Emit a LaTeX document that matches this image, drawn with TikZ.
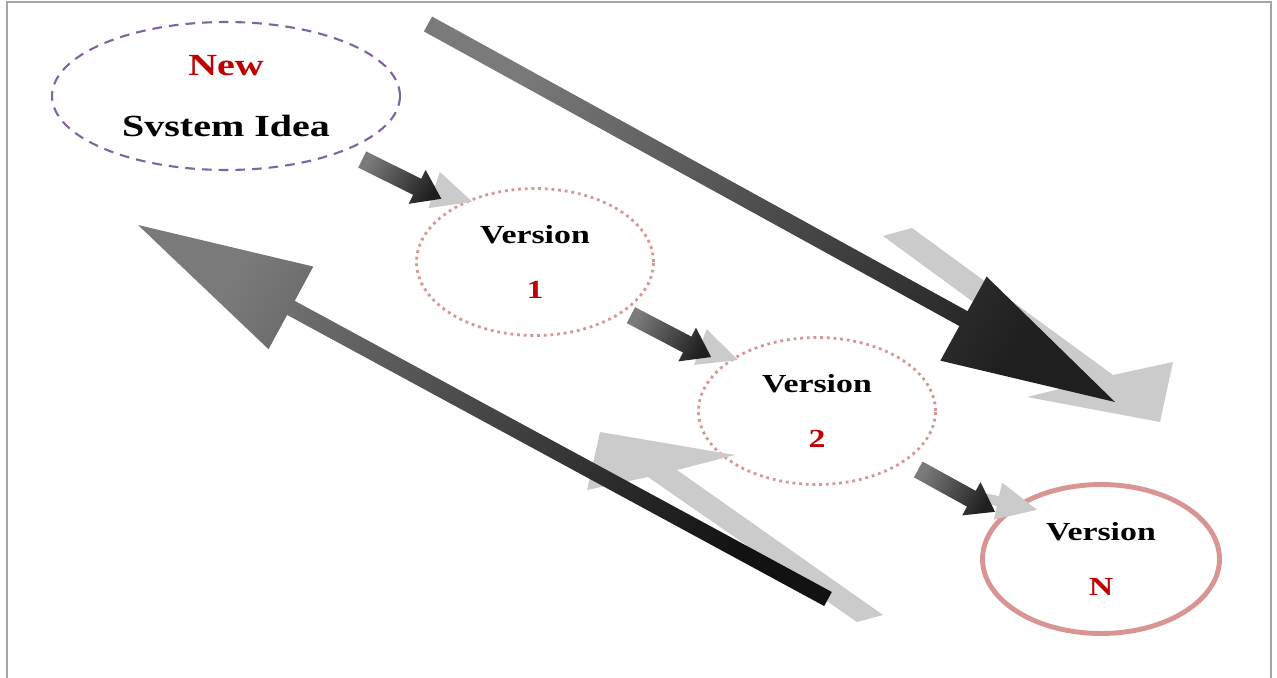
\documentclass[tikz,border=0pt]{standalone}
\usepackage{fontspec}
\newfontfamily\stretchserif[FakeStretch=1.3]{Liberation Serif}
\usetikzlibrary{shapes.geometric, calc}
\definecolor{ideapurple}{HTML}{8064A2}
\definecolor{ringred}{HTML}{D99594}
\definecolor{numred}{HTML}{C00000}
\definecolor{shadowgray}{HTML}{CBCBCB}
\definecolor{framegray}{HTML}{A6A6A6}
\tikzstyle{ideabox} = [ellipse, draw=ideapurple, line width=1.2pt, dash pattern=on 5.5pt off 4pt, minimum width=6.96cm, minimum height=2.96cm, inner sep=0pt, align=center, font=\stretchserif\bfseries\fontsize{17.5}{35}\selectfont]
\tikzstyle{versionbox} = [ellipse, draw=ringred, line width=1.6pt, dash pattern=on 1.6pt off 2.2pt, minimum width=4.74cm, minimum height=2.94cm, inner sep=0pt, align=center, font=\stretchserif\bfseries\fontsize{14.8}{31.8}\selectfont]
\tikzstyle{finalbox} = [versionbox, solid, line width=2.8pt, minimum height=2.98cm]
\tikzstyle{shadow} = [fill=shadowgray]
\tikzstyle{fade} = [left color=black!52, right color=black!88, shading angle=60]
\tikzstyle{fadeup} = [left color=black!52, right color=black!93, shading angle=60]
\newcommand{\blockarrow}[6][]{%
  \coordinate (ba) at ($(#3)!#6!(#2)$);
  \path[#1] ($(#2)!#4!90:(#3)$) -- ($(ba)!#4!90:(#3)$) -- ($(ba)!#5!90:(#3)$) -- (#3)
    -- ($(ba)!#5!-90:(#3)$) -- ($(ba)!#4!-90:(#3)$) -- ($(#2)!#4!-90:(#3)$) -- cycle;
}

\begin{document}
\begin{tikzpicture}[x=0.02cm, y=-0.02cm]
  \useasboundingbox (0,0) rectangle (1277,678);
  \draw [framegray, line width=1.1pt] (7,678) -- (7,2) -- (1271,2) -- (1271,678);

  \node (idea) [ideabox] at (226,96) {\textcolor{numred}{New}\\Svstem Idea};
  \node (v1) [versionbox] at (535,262) {Version\\\textcolor{numred}{1}};
  \node (v2) [versionbox] at (817,411) {Version\\\textcolor{numred}{2}};
  \node (vn) [finalbox] at (1101,559) {Version\\\textcolor{numred}{N}};

  \coordinate (idea-out) at ($(idea.center)!1.15!(idea.-25)$);
  \coordinate (v1-in) at ($(v1.center)!1.15!(v1.146)$);
  \coordinate (v1-out) at ($(v1.center)!1.07!(v1.-29)$);
  \coordinate (v2-in) at ($(v2.center)!1.14!(v2.153)$);
  \coordinate (v2-out) at ($(v2.center)!1.15!(v2.-30)$);
  \coordinate (vn-in) at ($(vn.center)!1.07!(vn.156)$);
  \coordinate (down-tail) at (428,24);
  \coordinate (down-tip) at (1115,402);
  \coordinate (up-tail) at (828,599);
  \coordinate (up-tip) at (138,225);

  \path [shadow] (883,236) -- (1084,383) -- (1027,397) -- (1160,422) -- (1173,362) -- (1113,375) -- (912,228) -- cycle;
  \path [shadow] (857,622) -- (883,615) -- (677,470) -- (735,455) -- (600,432) -- (587,490) -- (648,477) -- cycle;
  \blockarrow[shadow]{$(idea-out)!0.55!(v1-in)$}{$(v1-in)+(31,3)$}{0.1cm}{0.38cm}{0.8cm}
  \blockarrow[shadow]{$(v1-out)!0.55!(v2-in)$}{$(v2-in)+(27,3)$}{0.1cm}{0.38cm}{0.8cm}
  \blockarrow[shadow]{$(v2-out)!0.55!(vn-in)$}{$(vn-in)+(42,-2)$}{0.1cm}{0.38cm}{0.8cm}

  \blockarrow[fade]{down-tail}{down-tip}{0.17cm}{0.96cm}{3.46cm}
  \blockarrow[fadeup]{up-tail}{up-tip}{0.16cm}{0.94cm}{3.48cm}
  \blockarrow[fade]{idea-out}{v1-in}{0.18cm}{0.38cm}{0.54cm}
  \blockarrow[fade]{v1-out}{v2-in}{0.18cm}{0.38cm}{0.54cm}
  \blockarrow[fade]{v2-out}{vn-in}{0.18cm}{0.38cm}{0.54cm}
\end{tikzpicture}
\end{document}
